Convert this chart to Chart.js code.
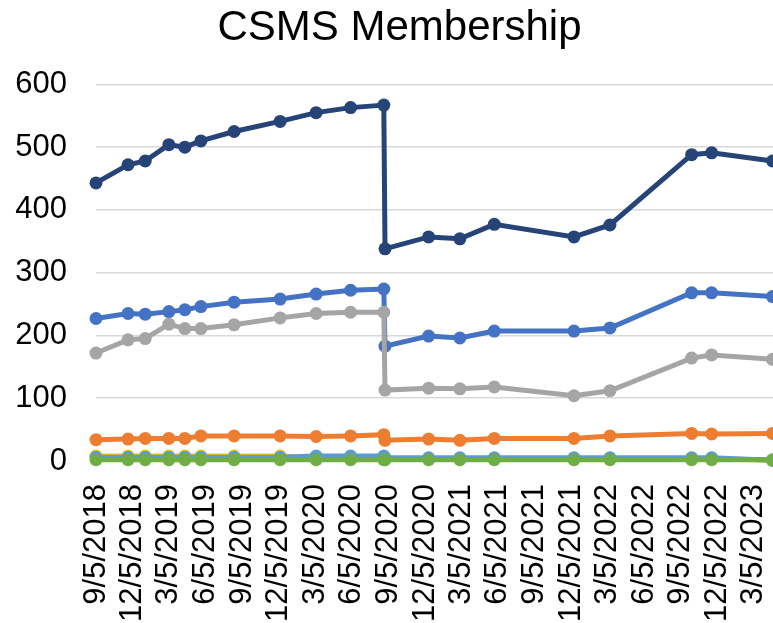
<!DOCTYPE html>
<html>
<head>
<meta charset="utf-8">
<script src="https://cdn.jsdelivr.net/npm/chart.js@4.4.1/dist/chart.umd.min.js"></script>
<style>
  html, body { margin: 0; padding: 0; background: #fff; overflow: hidden; }
  .wrap { width: 773px; height: 623px; overflow: hidden; }
  canvas { display: block; }
</style>
</head>
<body>
<div class="wrap">
  <canvas id="membershipChart" width="799" height="623"></canvas>
</div>
<script>
// dates of each membership count
const dates = [
  '2018-09-05', '2018-11-24', '2019-01-06', '2019-03-06', '2019-04-15',
  '2019-05-25', '2019-08-16', '2019-12-09', '2020-03-08', '2020-06-02',
  '2020-08-24', '2020-08-27', '2020-12-14', '2021-03-02', '2021-05-27',
  '2021-12-12', '2022-03-12', '2022-10-02', '2022-11-21', '2023-04-22'
];

const navySeries   = [443, 472, 478, 504, 500, 510, 525, 541, 555, 563, 567, 338, 357, 354, 377, 357, 376, 488, 491, 478];
const blueSeries   = [227, 235, 234, 238, 241, 246, 253, 258, 266, 272, 274, 183, 199, 196, 207, 207, 212, 268, 268, 262];
const graySeries   = [172, 193, 195, 218, 211, 211, 217, 228, 235, 237, 237, 113, 116, 115, 118, 104, 112, 164, 169, 162];
const orangeSeries = [34, 35, 36, 36, 36, 40, 40, 40, 39, 40, 42, 33, 35, 33, 36, 36, 40, 44, 43, 44];
const yellowSeries = [8, 8, 8, 8, 8, 8, 8, 8, 5, 5, 5, 4, 4, 4, 4, 4, 4, 4, 4, 1];
const lightSeries  = [6, 6, 6, 6, 6, 6, 6, 6, 8, 8, 8, 5, 5, 5, 5, 5, 5, 5, 5, 1];
const greenSeries  = [2, 2, 2, 2, 2, 2, 2, 2, 2, 2, 2, 2, 2, 2, 2, 2, 2, 2, 2, 2];

const tickDates = [
  '2018-09-05', '2018-12-05', '2019-03-05', '2019-06-05', '2019-09-05',
  '2019-12-05', '2020-03-05', '2020-06-05', '2020-09-05', '2020-12-05',
  '2021-03-05', '2021-06-05', '2021-09-05', '2021-12-05', '2022-03-05',
  '2022-06-05', '2022-09-05', '2022-12-05', '2023-03-05'
];
const tickLabels = [
  '9/5/2018', '12/5/2018', '3/5/2019', '6/5/2019', '9/5/2019',
  '12/5/2019', '3/5/2020', '6/5/2020', '9/5/2020', '12/5/2020',
  '3/5/2021', '6/5/2021', '9/5/2021', '12/5/2021', '3/5/2022',
  '6/5/2022', '9/5/2022', '12/5/2022', '3/5/2023'
];
const yTicks = [0, 100, 200, 300, 400, 500, 600];

// date string -> day number
const toDay = (s) => {
  const [y, m, d] = s.split('-').map(Number);
  return Date.UTC(y, m - 1, d) / 864e5;
};

const makeSeries = (values, color) => ({
  data: values.map((v, i) => ({ x: toDay(dates[i]), y: v })),
  borderColor: color,
  backgroundColor: color,
  pointBackgroundColor: color,
  pointBorderWidth: 0,
  pointRadius: 6.5,
  borderWidth: 5,
  tension: 0,
  clip: false
});

// axis runs on past the right edge of the picture (it is cropped there)
const xMin = toDay(dates[0]);
const xMax = xMin + 1740;

const ctx = document.getElementById('membershipChart').getContext('2d');
// chart.js paints the first dataset on top, so the list runs top -> bottom
new Chart(ctx, {
  type: 'line',
  data: {
    datasets: [
      makeSeries(navySeries, '#264478'),
      makeSeries(greenSeries, '#70AD47'),
      makeSeries(lightSeries, '#5B9BD5'),
      makeSeries(yellowSeries, '#FFC000'),
      makeSeries(graySeries, '#A5A5A5'),
      makeSeries(orangeSeries, '#ED7D31'),
      makeSeries(blueSeries, '#4472C4')
    ]
  },
  options: {
    responsive: false,
    animation: false,
    layout: { padding: 0 },
    plugins: {
      legend: { display: false },
      tooltip: { enabled: false },
      title: {
        display: true,
        text: 'CSMS Membership',
        color: '#000',
        font: { family: 'Liberation Sans, Arial, sans-serif', size: 42, weight: 'normal' },
        padding: { top: 3, bottom: 31 }
      }
    },
    scales: {
      x: {
        type: 'linear',
        bounds: 'data',
        min: xMin,
        max: xMax,
        afterBuildTicks: (scale) => {
          scale.ticks = tickDates.map(d => ({ value: toDay(d) }));
        },
        afterFit: (scale) => {
          scale.height = 162;
          scale.paddingLeft = 0;
          scale.paddingRight = 0;
        },
        grid: { display: false, drawTicks: false },
        border: { display: true, color: '#d9d9d9', width: 1.5 },
        ticks: {
          autoSkip: false,
          minRotation: 90,
          maxRotation: 90,
          padding: 23,
          color: '#000',
          font: { family: 'Liberation Sans, Arial, sans-serif', size: 31 },
          callback: (value, index) => tickLabels[index]
        }
      },
      y: {
        min: 0,
        max: 600,
        afterBuildTicks: (scale) => {
          scale.ticks = yTicks.map(v => ({ value: v }));
        },
        afterFit: (scale) => { scale.width = 96; },
        grid: { color: '#d9d9d9', lineWidth: 1.5, drawTicks: false },
        border: { display: false },
        ticks: {
          padding: 29,
          color: '#000',
          font: { family: 'Liberation Sans, Arial, sans-serif', size: 31 }
        }
      }
    }
  }
});
</script>
</body>
</html>
